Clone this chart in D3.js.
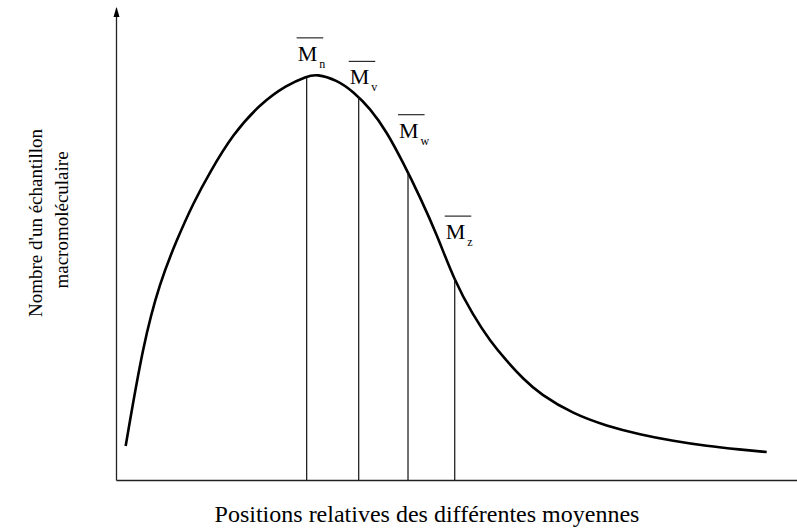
<!DOCTYPE html>
<html>
<head>
<meta charset="utf-8">
<script src="https://cdn.jsdelivr.net/npm/d3@7"></script>
<style>
  body { margin: 0; background: #fff; }
</style>
</head>
<body>
<div id="chart"></div>
<script>
// distribution curve (x: relative position, y: number)
var curveX = [1.42, 4.01, 6.46, 8.91, 11.35, 13.80, 17.18, 21.15, 25.07, 28.00, 29.44, 32.41, 34.85, 37.30, 39.75, 42.19, 44.64, 47.14, 49.71, 52.42, 54.92, 57.37, 59.81, 62.26, 67.15, 72.06, 76.95, 81.84, 86.74, 91.63, 95.55];
var curveY = [7.20, 29.03, 41.95, 50.85, 58.69, 65.25, 73.31, 79.66, 83.69, 85.49, 86.02, 84.75, 82.27, 78.75, 73.79, 67.16, 59.96, 51.91, 42.16, 34.96, 29.45, 25.21, 21.40, 18.22, 13.98, 11.44, 9.64, 8.26, 7.20, 6.46, 5.93];

// the four averages
var meanNames = ['M', 'M', 'M', 'M'];
var meanSubs = ['n', 'v', 'w', 'z'];
var meanX = [28.0, 35.64, 42.88, 49.74];

var xTitle = 'Positions relatives des différentes moyennes';
var yTitle = ["Nombre d'un échantillon", 'macromoléculaire'];

var width = 797, height = 529;
var serif = '"Liberation Serif", "Times New Roman", Times, "DejaVu Serif", serif';

var x = d3.scaleLinear().domain([0, 100]).range([116, 797]);
var y = d3.scaleLinear().domain([0, 100]).range([480, 8]);

var svg = d3.select('#chart').append('svg')
            .attr('width', width)
            .attr('height', height);

var points = curveX.map(function(d, i) { return [d, curveY[i]]; });

var line = d3.line()
             .x(function(d) { return x(d[0]); })
             .y(function(d) { return y(d[1]); })
             .curve(d3.curveBasis);

var curve = svg.append('path')
               .datum(points)
               .attr('d', line)
               .attr('fill', 'none')
               .attr('stroke', '#000')
               .attr('stroke-width', 2.6);

// find the curve height at a given pixel x
var node = curve.node();
var total = node.getTotalLength();
function curveTop(px) {
  var lo = 0, hi = total;
  for (var k = 0; k < 40; k++) {
    var mid = (lo + hi) / 2;
    if (node.getPointAtLength(mid).x < px) lo = mid; else hi = mid;
  }
  return node.getPointAtLength(lo).y;
}

// label offsets above the curve (px)
var labelDy = [-16, -13, -35, -40];

meanX.forEach(function(m, i) {
  var px = x(m);
  var top = curveTop(px);

  svg.append('line')
     .attr('x1', px).attr('x2', px)
     .attr('y1', top).attr('y2', y(0))
     .attr('stroke', '#111')
     .attr('stroke-width', 1.2);

  var lx = px - 9, ly = top + labelDy[i];
  var t = svg.append('text')
             .attr('x', lx)
             .attr('y', ly)
             .attr('font-family', serif)
             .attr('font-size', 22)
             .text(meanNames[i]);
  var w = t.node().getComputedTextLength();

  svg.append('text')
     .attr('x', lx + w + 2)
     .attr('y', ly + 7)
     .attr('font-family', serif)
     .attr('font-size', 12)
     .text(meanSubs[i]);

  svg.append('line')
     .attr('x1', lx - 1).attr('x2', lx + w + 6)
     .attr('y1', ly - 23).attr('y2', ly - 23)
     .attr('stroke', '#000')
     .attr('stroke-width', 1);
});

// axes without ticks
svg.append('g')
   .attr('transform', 'translate(0,' + y(0) + ')')
   .call(d3.axisBottom(x).tickValues([]).tickSizeOuter(0));
svg.append('g')
   .attr('transform', 'translate(' + x(0) + ',0)')
   .call(d3.axisLeft(y).tickValues([]).tickSizeOuter(0));
svg.selectAll('.domain')
   .attr('stroke', '#222')
   .attr('stroke-width', 1.3);

var tipX = x(0) + 0.5, tipY = y(100) - 1;
svg.append('path')
   .attr('d', 'M' + tipX + ',' + tipY + 'L' + (tipX - 3) + ',' + (tipY + 10) + 'L' + (tipX + 3) + ',' + (tipY + 10) + 'Z')
   .attr('fill', '#000');

svg.append('text')
   .attr('x', 427)
   .attr('y', 521.5)
   .attr('text-anchor', 'middle')
   .attr('font-family', serif)
   .attr('font-size', 24)
   .text(xTitle);

svg.append('text')
   .attr('transform', 'translate(42,223) rotate(-90)')
   .attr('text-anchor', 'middle')
   .attr('font-family', serif)
   .attr('font-size', 19)
   .text(yTitle[0]);

svg.append('text')
   .attr('transform', 'translate(68,220) rotate(-90)')
   .attr('text-anchor', 'middle')
   .attr('font-family', serif)
   .attr('font-size', 19)
   .text(yTitle[1]);
</script>
</body>
</html>
